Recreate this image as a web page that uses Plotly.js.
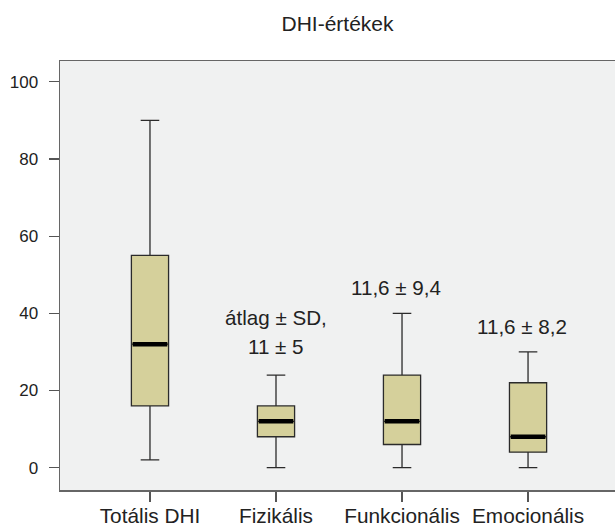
<!DOCTYPE html>
<html>
<head>
<meta charset="utf-8">
<script src="https://cdn.plot.ly/plotly-3.0.1.min.js"></script>
<style>html,body{margin:0;padding:0;background:#fff;}#chart{width:615px;height:529px;}</style>
</head>
<body>
<div id="chart"></div>
<script>
var categories = ['Totális DHI', 'Fizikális', 'Funkcionális', 'Emocionális'];
var lowerWhisker = [2, 0, 0, 0];
var q1Values = [16, 8, 6, 4];
var medianValues = [32, 12, 12, 8];
var q3Values = [55, 16, 24, 22];
var upperWhisker = [90, 24, 40, 30];
var yTickValues = [0, 20, 40, 60, 80, 100];
var noteTexts = ['átlag ± SD,', '11 ± 5', '11,6 ± 9,4', '11,6 ± 8,2'];
var noteCategory = [1, 1, 2, 3];
var noteY = [38.8, 31.3, 46.6, 36.7];

var positions = categories.map(function (c, i) { return i; });
var boxW = 0.295;
var font = 'Liberation Sans, Arial, Helvetica, sans-serif';

var boxTrace = {
  type: 'box',
  x: positions,
  q1: q1Values,
  median: medianValues,
  q3: q3Values,
  lowerfence: lowerWhisker,
  upperfence: upperWhisker,
  width: boxW,
  whiskerwidth: 0.5,
  fillcolor: '#d5d09b',
  line: { color: '#2b2b2b', width: 1.3 },
  boxpoints: false,
  hoverinfo: 'skip',
  showlegend: false
};

var mx = [], my = [];
positions.forEach(function (p, i) {
  mx.push(p - boxW / 2 + 0.01, p + boxW / 2 - 0.01, null);
  my.push(medianValues[i], medianValues[i], null);
});
var medianTrace = {
  type: 'scatter', mode: 'lines', x: mx, y: my,
  line: { color: '#000', width: 4.5 },
  hoverinfo: 'skip', showlegend: false
};

var annotations = noteTexts.map(function (t, i) {
  return {
    text: t, x: noteCategory[i] - (i >= 2 ? 0.05 : 0), y: noteY[i],
    xref: 'x', yref: 'y', showarrow: false,
    xanchor: 'center', yanchor: 'middle',
    font: { family: font, size: 20.6, color: '#222' }
  };
});

var layout = {
  width: 615, height: 529,
  margin: { l: 60, r: 0, t: 61, b: 39 },
  paper_bgcolor: '#ffffff',
  plot_bgcolor: '#f0f1f1',
  title: { text: 'DHI-értékek', x: 0.5, xref: 'paper', y: 0.955, yanchor: 'middle',
           font: { family: font, size: 21, color: '#222' } },
  font: { family: font, color: '#222' },
  xaxis: {
    range: [-0.714, 3.69],
    tickvals: positions, ticktext: categories,
    showgrid: false, zeroline: false,
    showline: true, mirror: true, linecolor: '#666', linewidth: 1.5,
    ticks: 'outside', ticklen: 10, tickcolor: '#555', tickwidth: 1.2,
    ticklabelstandoff: -3,
    tickfont: { family: font, size: 20.8, color: '#222' }
  },
  yaxis: {
    range: [-5.8, 105.4],
    tickvals: yTickValues,
    showgrid: false, zeroline: false,
    showline: true, linecolor: '#666', linewidth: 1.5,
    ticks: 'outside', ticklen: 10, tickcolor: '#555', tickwidth: 1.2,
    ticklabelstandoff: 7,
    tickfont: { family: font, size: 17, color: '#222' }
  },
  annotations: annotations
};

Plotly.newPlot('chart', [boxTrace, medianTrace], layout, { staticPlot: true });
</script>
</body>
</html>
